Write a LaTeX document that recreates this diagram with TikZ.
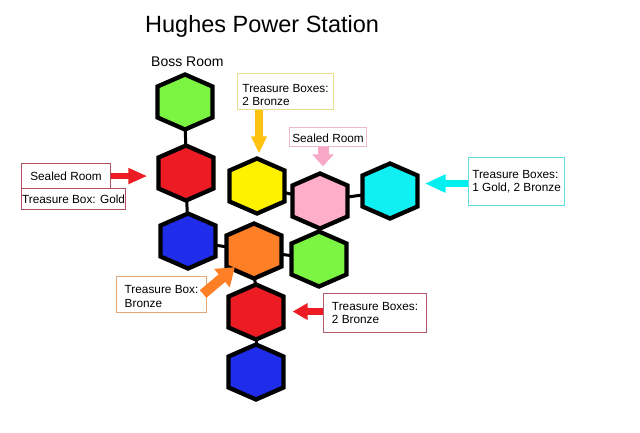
\documentclass[tikz,border=0pt]{standalone}
\usepackage{fontspec}
\setmainfont{Liberation Sans}
\usetikzlibrary{arrows.meta}
\definecolor{hgreen}{HTML}{7CF442}
\definecolor{hred}{HTML}{ED1C24}
\definecolor{hblue}{HTML}{1F2DEB}
\definecolor{hyellow}{HTML}{FFF200}
\definecolor{horange}{HTML}{FF7F27}
\definecolor{hpink}{HTML}{FFAEC9}
\definecolor{hcyan}{HTML}{10F0F2}
\definecolor{ayellow}{HTML}{FFC20E}
\definecolor{apink}{HTML}{F7A8C6}
\definecolor{acyan}{HTML}{00F0F0}
\definecolor{brose}{HTML}{B05060}
\definecolor{byellow}{HTML}{E8DC90}
\definecolor{bpink}{HTML}{F0B8CC}
\definecolor{bcyan}{HTML}{60E0E0}
\definecolor{borange}{HTML}{E4A878}
\definecolor{bred}{HTML}{B45A6A}
\tikzset{
  hexspot/.style={circle, minimum size=55pt, inner sep=0pt},
  hexline/.style={draw=black, line width=4.3pt, line join=miter},
  pics/hexroom/.style={code={\path[hexline, fill=#1] (0,27.5) -- (27.5,15.5) -- (27.5,-15.5) -- (0,-27.5) -- (-27.5,-15.5) -- (-27.5,15.5) -- cycle;}},
  link/.style={draw=black, line width=3pt},
  infobox/.style n args={3}{draw=#1, line width=1.1pt, minimum width=#2, minimum height=#3, anchor=north west, inner sep=0pt, align=left, font=\fontsize{11.8}{13.5}\selectfont},
  barrow/.style n args={4}{draw=#1, line width=#2, -{Triangle[length=#3, width=#4, fill=#1]}},
}
\begin{document}
\begin{tikzpicture}[x=1pt, y=-1pt]
\useasboundingbox (0,0) rectangle (640,432);
\fill[white] (0,0) rectangle (640,432);
% title
\node[anchor=base west, inner sep=0pt, font=\fontsize{23.5}{26}\selectfont] (title) at (145,32) {Hughes Power Station};
\node[anchor=base west, inner sep=0pt, font=\fontsize{14}{16}\selectfont] (boss) at (151,66) {Boss Room};
% room positions
\node[hexspot] (G1) at (185,102) {};
\node[hexspot] (R1) at (186,173) {};
\node[hexspot] (B1) at (188,241) {};
\node[hexspot] (Y) at (257,186) {};
\node[hexspot] (O) at (254,251) {};
\node[hexspot] (P) at (320,201) {};
\node[hexspot] (C) at (390,191) {};
\node[hexspot] (G2) at (319,259) {};
\node[hexspot] (R2) at (256,312) {};
\node[hexspot] (B2) at (256,372) {};
% connectors (behind rooms)
\draw[link] (G1.center) -- (R1.center);
\draw[link] (R1.center) -- (B1.center);
\draw[link] (B1.center) -- (O.center);
\draw[link] (Y.center) -- (P.center);
\draw[link] (P.center) -- (C.center);
\draw[link] (O.center) -- (G2.center);
\draw[link] (P.center) -- (G2.center);
\draw[link] (O.center) -- (R2.center);
\draw[link] (R2.center) -- (B2.center);
% rooms
\pic at (G1) {hexroom=hgreen};
\pic at (R1) {hexroom=hred};
\pic at (B1) {hexroom=hblue};
\pic at (Y) {hexroom=hyellow};
\pic at (O) {hexroom=horange};
\pic at (P) {hexroom=hpink};
\pic at (C) {hexroom=hcyan};
\pic at (G2) {hexroom=hgreen};
\pic at (R2) {hexroom=hred};
\pic at (B2) {hexroom=hblue};
% info boxes
\node[infobox={brose}{89pt}{25pt}] (sbox) at (21,163) {Sealed Room};
\node[infobox={brose}{104pt}{21pt}] (gbox) at (21,188) {Treasure Box: Gold};
\node[infobox={byellow}{96pt}{36pt}] (ybox) at (237,73) {\rule{0pt}{15pt}Treasure Boxes:\\2 Bronze};
\node[infobox={bpink}{77pt}{19pt}] (pbox) at (289,127) {\rule{0pt}{11pt}Sealed Room};
\node[infobox={bcyan}{96pt}{48pt}] (cbox) at (468,157) {Treasure Boxes:\\1 Gold, 2 Bronze};
\node[infobox={borange}{90pt}{36pt}] (obox) at (116,276) {\rule{0pt}{12pt}Treasure Box:\\Bronze};
\node[infobox={bred}{103pt}{39pt}] (rbox) at (323,293) {Treasure Boxes:\\2 Bronze};
% arrows
\draw[barrow={hred}{6pt}{19pt}{15pt}, shorten >=11pt] (sbox.east) -- (sbox.east -| R1.west);
\draw[barrow={ayellow}{8pt}{17pt}{15pt}, shorten >=5pt] ([xshift=2pt]Y |- ybox.south) -- ([xshift=2pt]Y.north);
\draw[barrow={apink}{11pt}{12pt}{21pt}, shorten >=7pt] ([xshift=3pt]P |- pbox.south) -- ([xshift=3pt]P.north);
\draw[barrow={acyan}{7pt}{21pt}{17pt}, shorten >=7pt] ([yshift=-2pt]cbox.west) -- ([yshift=-2pt]cbox.west -| C.east);
\draw[barrow={hred}{7pt}{15pt}{16pt}, shorten >=9pt] ([yshift=1.5pt]rbox.west) -- ([yshift=1.5pt]rbox.west -| R2.east);
\draw[barrow={horange}{10pt}{17pt}{23pt}, shorten >=25pt] ([shift={(-4,18)}]obox.north east) -- (O.center);
\end{tikzpicture}
\end{document}
